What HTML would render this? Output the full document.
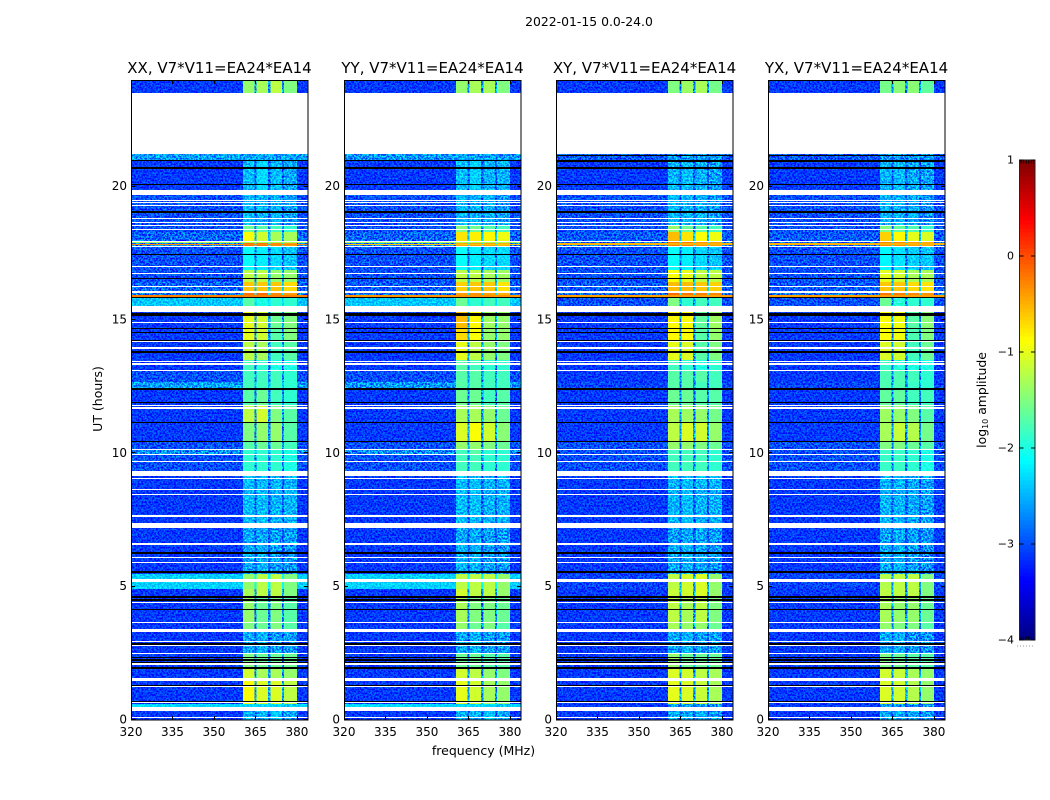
<!DOCTYPE html>
<html lang="en">
<head>
<meta charset="utf-8">
<title>2022-01-15 0.0-24.0</title>
<style>
html,body{margin:0;padding:0;background:#fff;width:1050px;height:800px;overflow:hidden}
svg{display:block}
text{font-family:"DejaVu Sans","Liberation Sans",sans-serif;fill:#000}
.grain{mix-blend-mode:overlay}
</style>
</head>
<body>
<svg id="chart" width="1050" height="800" viewBox="0 0 1050 800" xmlns="http://www.w3.org/2000/svg">
<defs>
<filter id="speckle" x="0" y="0" width="100%" height="100%" color-interpolation-filters="sRGB">
<feTurbulence type="fractalNoise" baseFrequency="0.55" numOctaves="2" seed="7"/>
<feColorMatrix type="matrix" values="3.2 0 0 0 -1.1  3.2 0 0 0 -1.1  3.2 0 0 0 -1.1  0 0 0 0 1"/>
</filter>
</defs>
<text x="589" y="26" text-anchor="middle" font-size="12.4">2022-01-15 0.0-24.0</text>
<text x="483.5" y="755" text-anchor="middle" font-size="12.5">frequency (MHz)</text>
<text transform="translate(102,399) rotate(-90)" text-anchor="middle" font-size="12.5">UT (hours)</text>
<text transform="translate(986,400) rotate(-90)" text-anchor="middle" font-size="12.4">log<tspan font-size="8" dy="2">10</tspan><tspan dy="-2"> amplitude</tspan></text>
</svg>
<script>
// Chart data: hours, MHz and log10 amplitude.
const panelTitles = ["XX, V7*V11=EA24*EA14", "YY, V7*V11=EA24*EA14", "XY, V7*V11=EA24*EA14", "YX, V7*V11=EA24*EA14"];
const xTickLabels = [320, 335, 350, 365, 380];
const yTickLabels = [0, 5, 10, 15, 20];
const colorbarTickLabels = [-4, -3, -2, -1, 0, 1];
const spwRangesMHz = [[360.5, 364.6], [365.4, 369.6], [370.4, 374.6], [375.4, 380]];
const bandEdgesH = [0, 0.34, 0.6, 1.46, 1.95, 2.48, 3.3, 3.67, 4.61, 4.91, 5.48, 6.56, 7.2, 9.15, 9.94, 10.16, 10.43, 11.14, 11.81, 12.41, 12.68, 13.09, 13.5, 14.18, 14.7, 15.3, 15.83, 16.05, 16.43, 16.88, 17.78, 17.96, 18.3, 18.56, 19.69, 21.0, 21.22, 23.51, 24];
// Each row: off-band, spw 1, spw 2, spw 3, spw 4 (log10 amplitude), one row per band above.
const xxLevels = [
[-3.1,-2.5,-2.5,-2.4,-2.55],[-2.3,-2.3,-2.3,-2.3,-2.4],[-3.1,-0.9,-1.05,-1.05,-1.2],[-3.1,-1.1,-1.3,-1.3,-1.4],
[-3.1,-1.5,-1.6,-1.6,-1.6],[-3.1,-2.55,-2.5,-2.6,-2.6],[-3.1,-1.5,-1.6,-1.5,-1.7],[-3.1,-1.4,-1.6,-1.5,-1.7],
[-3.1,-1.3,-1.2,-1.2,-1.5],[-2.35,-1.4,-1.2,-1.2,-1.5],[-3.1,-2.55,-2.5,-2.6,-2.65],[-3.1,-2.55,-2.55,-2.6,-2.6],
[-3.1,-2.45,-2.45,-2.5,-2.5],[-3.0,-1.9,-1.9,-1.9,-2.0],[-2.7,-1.9,-1.9,-1.9,-2.0],[-3.0,-1.7,-1.6,-1.6,-1.8],
[-3.1,-1.5,-1.4,-1.4,-1.7],[-3.1,-1.2,-1.1,-1.5,-1.7],[-3.1,-1.7,-1.6,-1.8,-1.9],[-2.6,-1.8,-1.8,-1.8,-1.9],
[-3.0,-1.8,-1.8,-1.8,-1.9],[-3.1,-1.8,-1.9,-2.0,-2.0],[-3.1,-1.2,-1.3,-1.8,-1.7],[-3.1,-1.0,-1.1,-1.7,-1.5],
[-3.1,-1.0,-1.1,-1.6,-1.5],[-2.4,-1.7,-2.0,-1.9,-1.9],[-2.8,-0.2,-0.15,-0.3,-0.4],[-2.9,-0.6,-0.6,-0.6,-0.7],
[-3.0,-1.2,-1.2,-1.4,-1.4],[-3.0,-2.1,-2.2,-2.3,-2.4],[-2.8,-0.2,-0.2,-0.3,-0.4],[-2.9,-0.9,-1.1,-1.3,-1.3],
[-3.0,-1.6,-1.7,-1.8,-1.9],[-3.0,-2.45,-2.5,-2.5,-2.6],[-3.1,-2.45,-2.3,-2.45,-2.55],[-2.6,-2.6,-2.55,-2.6,-2.6],
[-3.1,-3.1,-3.1,-3.1,-3.1],[-3.1,-1.4,-1.3,-1.2,-1.5]
];
const yyLevels = [
[-3.1,-2.5,-2.5,-2.4,-2.55],[-2.3,-2.3,-2.3,-2.3,-2.4],[-3.1,-1.0,-1.1,-1.3,-1.4],[-3.1,-1.1,-1.2,-1.4,-1.5],
[-3.1,-1.6,-1.6,-1.7,-1.7],[-3.1,-2.55,-2.5,-2.6,-2.6],[-3.1,-1.4,-1.6,-1.5,-1.7],[-3.1,-1.3,-1.5,-1.5,-1.6],
[-3.1,-1.1,-1.2,-1.2,-1.4],[-2.35,-1.2,-1.2,-1.2,-1.4],[-3.1,-2.5,-2.5,-2.6,-2.65],[-3.1,-2.55,-2.55,-2.6,-2.6],
[-3.1,-2.45,-2.45,-2.5,-2.5],[-3.0,-1.8,-1.8,-1.9,-1.9],[-2.7,-1.8,-1.7,-1.9,-1.9],[-3.0,-1.4,-1.4,-1.5,-1.6],
[-3.1,-1.05,-0.9,-1.1,-1.45],[-3.1,-1.3,-1.3,-1.4,-1.6],[-3.1,-1.6,-1.6,-1.8,-1.7],[-2.65,-1.7,-1.7,-1.8,-1.8],
[-3.0,-1.7,-1.7,-1.8,-1.8],[-3.1,-1.7,-1.8,-1.9,-1.9],[-3.1,-1.0,-1.2,-1.4,-1.5],[-3.1,-0.7,-0.9,-1.4,-1.4],
[-3.1,-0.55,-0.85,-1.35,-1.4],[-2.4,-1.6,-1.9,-1.8,-1.8],[-2.85,-0.4,-0.35,-0.4,-0.5],[-2.95,-0.65,-0.6,-0.6,-0.75],
[-3.0,-1.2,-1.2,-1.3,-1.35],[-3.0,-2.1,-2.2,-2.3,-2.3],[-2.8,-0.45,-0.4,-0.4,-0.5],[-2.9,-0.75,-0.8,-0.85,-0.95],
[-3.0,-1.5,-1.6,-1.7,-1.8],[-3.0,-2.45,-2.5,-2.5,-2.6],[-3.1,-2.45,-2.35,-2.5,-2.5],[-2.65,-2.6,-2.6,-2.6,-2.65],
[-3.1,-3.1,-3.1,-3.1,-3.1],[-3.1,-1.4,-1.3,-1.3,-1.5]
];
const xyLevels = [
[-3.1,-2.55,-2.55,-2.5,-2.6],[-3.1,-2.6,-2.6,-2.6,-2.65],[-3.1,-1.0,-1.05,-1.15,-1.3],[-3.1,-1.05,-1.1,-1.2,-1.3],
[-3.1,-1.4,-1.6,-1.6,-1.6],[-3.1,-2.55,-2.5,-2.6,-2.6],[-3.1,-1.3,-1.4,-1.4,-1.6],[-3.1,-1.2,-1.3,-1.2,-1.5],
[-3.1,-1.15,-1.1,-1.05,-1.4],[-3.05,-1.2,-1.1,-1.05,-1.4],[-3.1,-2.55,-2.5,-2.55,-2.65],[-3.1,-2.6,-2.55,-2.55,-2.6],
[-3.1,-2.5,-2.45,-2.5,-2.5],[-3.0,-1.8,-1.8,-1.8,-1.9],[-3.0,-1.8,-1.8,-1.8,-1.9],[-3.0,-1.4,-1.4,-1.5,-1.6],
[-3.1,-1.2,-1.05,-1.1,-1.4],[-3.1,-1.3,-1.35,-1.4,-1.55],[-3.1,-1.6,-1.6,-1.7,-1.7],[-3.05,-1.7,-1.7,-1.8,-1.8],
[-3.1,-1.7,-1.7,-1.7,-1.8],[-3.1,-1.8,-1.9,-2.0,-1.9],[-3.1,-1.0,-1.05,-1.7,-1.5],[-3.1,-0.85,-0.9,-1.7,-1.4],
[-3.1,-0.85,-0.9,-1.65,-1.35],[-3.0,-1.5,-1.9,-1.8,-1.8],[-2.85,-0.15,-0.2,-0.25,-0.3],[-2.95,-0.55,-0.55,-0.6,-0.65],
[-3.0,-0.9,-1.0,-1.2,-1.2],[-3.0,-2.1,-2.2,-2.3,-2.4],[-2.85,-0.25,-0.25,-0.35,-0.4],[-2.95,-0.55,-0.75,-0.9,-0.95],
[-3.0,-1.4,-1.6,-1.7,-1.8],[-3.0,-2.45,-2.5,-2.5,-2.6],[-3.1,-2.5,-2.45,-2.5,-2.6],[-2.95,-2.65,-2.6,-2.65,-2.65],
[-3.1,-3.1,-3.1,-3.1,-3.1],[-3.1,-1.5,-1.35,-1.3,-1.55]
];
const yxLevels = [
[-3.1,-2.55,-2.55,-2.55,-2.6],[-3.1,-2.6,-2.6,-2.65,-2.65],[-3.1,-1.05,-1.1,-1.25,-1.4],[-3.1,-1.1,-1.15,-1.3,-1.4],
[-3.1,-1.5,-1.6,-1.7,-1.7],[-3.1,-2.55,-2.5,-2.65,-2.65],[-3.1,-1.4,-1.5,-1.5,-1.7],[-3.1,-1.3,-1.4,-1.4,-1.6],
[-3.1,-1.2,-1.2,-1.2,-1.5],[-3.05,-1.25,-1.2,-1.2,-1.5],[-3.1,-2.55,-2.5,-2.6,-2.7],[-3.1,-2.6,-2.55,-2.6,-2.65],
[-3.1,-2.5,-2.5,-2.55,-2.6],[-3.0,-1.85,-1.85,-1.9,-2.0],[-3.0,-1.85,-1.85,-1.9,-2.0],[-3.0,-1.5,-1.5,-1.6,-1.7],
[-3.1,-1.3,-1.15,-1.25,-1.55],[-3.1,-1.35,-1.4,-1.5,-1.7],[-3.1,-1.65,-1.65,-1.8,-1.8],[-3.05,-1.75,-1.75,-1.85,-1.9],
[-3.1,-1.75,-1.75,-1.8,-1.9],[-3.1,-1.85,-1.95,-2.0,-2.0],[-3.1,-1.05,-1.1,-1.8,-1.6],[-3.1,-0.9,-0.95,-1.75,-1.5],
[-3.1,-0.9,-0.95,-1.7,-1.45],[-3.0,-1.6,-1.95,-1.9,-1.9],[-2.85,-0.2,-0.25,-0.3,-0.35],[-2.95,-0.6,-0.6,-0.7,-0.75],
[-3.0,-1.0,-1.1,-1.3,-1.3],[-3.0,-2.15,-2.25,-2.35,-2.4],[-2.85,-0.3,-0.3,-0.4,-0.45],[-2.95,-0.65,-0.85,-1.0,-1.05],
[-3.0,-1.5,-1.65,-1.75,-1.85],[-3.0,-2.5,-2.5,-2.55,-2.65],[-3.1,-2.5,-2.45,-2.55,-2.6],[-2.95,-2.65,-2.65,-2.65,-2.7],
[-3.1,-3.1,-3.1,-3.1,-3.1],[-3.1,-1.55,-1.45,-1.45,-1.65]
];
// Flagged time ranges (hours): drawn white where data are missing, black where amplitude is zero.
const whiteRowsH = [[0.09,0.13],[0.34,0.49],[0.62,0.66],[1.22,1.26],[1.46,1.58],[2.08,2.12],[2.46,2.5],[2.76,2.8],[2.91,2.95],[3.3,3.41],[3.65,3.69],[4.37,4.41],[5.18,5.29],[5.87,5.91],[6.09,6.13],[6.58,6.62],[7.2,7.39],[7.63,7.67],[8.42,8.46],[8.64,8.68],[9.05,9.09],[9.15,9.34],[9.66,9.7],[9.92,9.96],[10.14,10.18],[11.68,11.72],[11.79,11.83],[13.07,13.11],[13.33,13.37],[13.44,13.48],[13.93,13.97],[14.16,14.2],[14.87,14.91],[15.3,15.53],[16.03,16.07],[16.22,16.26],[16.74,16.78],[16.97,17.01],[17.75,17.79],[17.94,17.98],[18.39,18.43],[18.54,18.58],[18.65,18.69],[18.77,18.81],[19.26,19.3],[19.37,19.41],[19.45,19.49],[19.69,19.87],[21.22,23.51]];
const blackRowsH = [[0.66,0.7],[1.29,1.33],[1.93,1.98],[2.15,2.19],[2.23,2.27],[2.34,2.38],[2.83,2.87],[4.14,4.18],[4.48,4.53],[4.59,4.64],[5.53,5.58],[6.24,6.29],[10.41,10.46],[11.12,11.17],[11.87,11.91],[12.39,12.44],[13.78,13.83],[14.21,14.26],[14.5,14.54],[14.65,14.7],[15.15,15.26],[15.81,15.86],[16.52,16.56],[17.42,17.46],[19.03,19.07],[20.06,20.11],[20.68,20.72],[20.96,21.0]];
const crossPolBlackRowsH = [[17.74,17.78],[21.14,21.19],[20.92,20.96]];
// Narrow interference rows that cross the full band: start hour, end hour, log10 amplitude.
const xxHotRows = [[15.88,15.92,-0.25],[17.82,17.86,-0.3],[17.88,17.92,-1.3]];
const yyHotRows = [[15.88,15.92,-0.35],[17.82,17.86,-0.6],[17.88,17.92,-1.3]];
const xyHotRows = [[15.88,15.92,-0.4],[17.83,17.87,-0.5]];
const yxHotRows = [[15.88,15.92,-0.4],[17.83,17.87,-0.5]];

const panelLevels = [xxLevels, yyLevels, xyLevels, yxLevels];
const panelHotRows = [xxHotRows, yyHotRows, xyHotRows, yxHotRows];
const panelSlugs = ["xx", "yy", "xy", "yx"];

const NS = "http://www.w3.org/2000/svg";
const svg = document.getElementById("chart");
const plotTop = 80, plotBottom = 720, plotWidth = 177;
const plotLefts = [131, 344, 556, 768];
const freqMin = 320, freqMax = 384, hourMin = 0, hourMax = 24;
const cbarLeft = 1019.5, cbarRight = 1035, cbarTop = 160, cbarBottom = 640;
const smoothAbove = -1.95;

function yScale(h) { return plotBottom - (h - hourMin) / (hourMax - hourMin) * (plotBottom - plotTop); }
function xScale(f, left) { return left + (f - freqMin) / (freqMax - freqMin) * plotWidth; }
function cbarScale(v) { return cbarBottom - (v + 4) / 5 * (cbarBottom - cbarTop); }
function jet(v) {
  const t = Math.max(0, Math.min(1, (v + 4) / 5));
  const ch = function (c) { return Math.round(255 * Math.max(0, Math.min(1, 1.5 - Math.abs(4 * t - c)))); };
  return "rgb(" + ch(3) + "," + ch(2) + "," + ch(1) + ")";
}
function node(tag, attrs, parent) {
  const el = document.createElementNS(NS, tag);
  for (const k in attrs) el.setAttribute(k, attrs[k]);
  parent.appendChild(el);
  return el;
}
function hourBar(parent, left, range, fill, name) {
  const y0 = Math.round(yScale(range[1]));
  const y1 = Math.max(y0 + 1, Math.round(yScale(range[0])));
  const el = node("rect", { x: left, y: y0, width: plotWidth, height: y1 - y0, fill: fill, "shape-rendering": "crispEdges" }, parent);
  
  
  return el;
}

panelTitles.forEach(function (title, p) {
  const left = plotLefts[p];
  const right = left + plotWidth;
  const group = node("g", {}, svg);
  
  

  const cells = node("g", {}, group);
  
  

  panelLevels[p].forEach(function (row, b) {
    const yA = yScale(bandEdgesH[b + 1]);
    const yB = yScale(bandEdgesH[b]);
    const off = node("rect", { x: left, y: yA, width: plotWidth, height: yB - yA, fill: jet(row[0]), "shape-rendering": "crispEdges" }, cells);
    
    
    const inBandMean = (row[1] + row[2] + row[3] + row[4]) / 4;
    const gapX = xScale(spwRangesMHz[0][0], left);
    const gap = node("rect", { x: gapX, y: yA, width: xScale(spwRangesMHz[3][1], left) - gapX, height: yB - yA, fill: jet(row[0] + (inBandMean - row[0]) * 0.25), "shape-rendering": "crispEdges" }, cells);
    
    
    spwRangesMHz.forEach(function (range, s) {
      if (row[s + 1] > smoothAbove) return;
      const xA = xScale(range[0], left);
      const cell = node("rect", { x: xA, y: yA, width: xScale(range[1], left) - xA, height: yB - yA, fill: jet(row[s + 1]), "shape-rendering": "crispEdges" }, cells);
      
      
    });
  });

  const grain = node("rect", { x: left, y: plotTop, width: plotWidth, height: plotBottom - plotTop, filter: "url(#speckle)", "class": "grain" }, group);
  
  

  // Strong spectral windows sit above the speckle: they are smooth in the reference.
  panelLevels[p].forEach(function (row, b) {
    const yA = yScale(bandEdgesH[b + 1]);
    const yB = yScale(bandEdgesH[b]);
    spwRangesMHz.forEach(function (range, s) {
      if (row[s + 1] <= smoothAbove) return;
      const xA = xScale(range[0], left);
      const cell = node("rect", { x: xA, y: yA, width: xScale(range[1], left) - xA, height: yB - yA, fill: jet(row[s + 1]), "shape-rendering": "crispEdges" }, group);
      
      
    });
  });
  panelHotRows[p].forEach(function (hot) {
    hourBar(group, left, hot, jet(hot[2]), 'interference-row');
  });

  blackRowsH.forEach(function (r) { hourBar(group, left, r, "#000", 'zero-amplitude-row'); });
  if (p >= 2) crossPolBlackRowsH.forEach(function (r) { hourBar(group, left, r, "#000", 'zero-amplitude-row'); });
  whiteRowsH.forEach(function (r) { hourBar(group, left, r, "#fff", 'flagged-row'); });

  const frame = node("rect", { x: left + 0.5, y: plotTop + 0.5, width: plotWidth - 0.5, height: plotBottom - plotTop - 0.5, fill: "none", stroke: "#000", "stroke-width": 1 }, group);
  
  

  const heading = node("text", { x: left + plotWidth / 2, y: 73, "text-anchor": "middle", "font-size": 15 }, group);
  heading.textContent = title;
  
  

  xTickLabels.forEach(function (f) {
    const x = Math.round(xScale(f, left)) + 0.5;
    const t1 = node("line", { x1: x, x2: x, y1: plotBottom, y2: plotBottom - 4, stroke: "#000" }, group);
    
    
    const t2 = node("line", { x1: x, x2: x, y1: plotTop, y2: plotTop + 4, stroke: "#000" }, group);
    
    
    const lab = node("text", { x: xScale(f, left), y: 736, "text-anchor": "middle", "font-size": 12 }, group);
    lab.textContent = f;
    
    
  });
  yTickLabels.forEach(function (h) {
    const y = Math.round(yScale(h)) - 0.5;
    const t1 = node("line", { x1: left, x2: left + 4, y1: y, y2: y, stroke: "#000" }, group);
    
    
    const t2 = node("line", { x1: right, x2: right - 4, y1: y, y2: y, stroke: "#000" }, group);
    
    
    const lab = node("text", { x: left - 4, y: yScale(h) + 3.5, "text-anchor": "end", "font-size": 12 }, group);
    lab.textContent = h;
    
    
  });
});

// Colorbar
const cbar = node("g", {}, svg);


const cbarSteps = 120;
for (let i = 0; i < cbarSteps; i++) {
  const lo = -4 + 5 * i / cbarSteps;
  const hi = -4 + 5 * (i + 1) / cbarSteps;
  const seg = node("rect", { x: cbarLeft, y: cbarScale(hi), width: cbarRight - cbarLeft, height: cbarScale(lo) - cbarScale(hi) + 0.3, fill: jet((lo + hi) / 2), "shape-rendering": "crispEdges" }, cbar);
  
  
}
const cbarFrame = node("rect", { x: cbarLeft, y: cbarTop, width: cbarRight - cbarLeft, height: cbarBottom - cbarTop, fill: "none", stroke: "#222", "stroke-width": 1 }, cbar);


colorbarTickLabels.forEach(function (v) {
  const y = cbarScale(v);
  const a = node("line", { x1: cbarLeft, x2: cbarLeft + 4, y1: y, y2: y, stroke: "#000" }, cbar);
  
  
  const b = node("line", { x1: cbarRight, x2: cbarRight - 4, y1: y, y2: y, stroke: "#000" }, cbar);
  
  
  const lab = node("text", { x: 1014, y: y + 3.5, "text-anchor": "end", "font-size": 11 }, cbar);
  lab.textContent = v < 0 ? "\u2212" + Math.abs(v) : String(v);
  
  
});
const cbarEndTop = node("line", { x1: cbarLeft + 1, x2: cbarRight - 1, y1: cbarTop + 2, y2: cbarTop + 2, stroke: "#000", "stroke-width": 3, "stroke-dasharray": "1 1.6" }, cbar);


const cbarEndBottom = node("line", { x1: cbarLeft + 1, x2: cbarRight - 1, y1: cbarBottom - 2, y2: cbarBottom - 2, stroke: "#000", "stroke-width": 3, "stroke-dasharray": "1 1.6" }, cbar);


const cbarDots = node("line", { x1: 1017, x2: 1035, y1: 646, y2: 646, stroke: "#999", "stroke-width": 1, "stroke-dasharray": "1 2" }, cbar);


</script>
</body>
</html>
